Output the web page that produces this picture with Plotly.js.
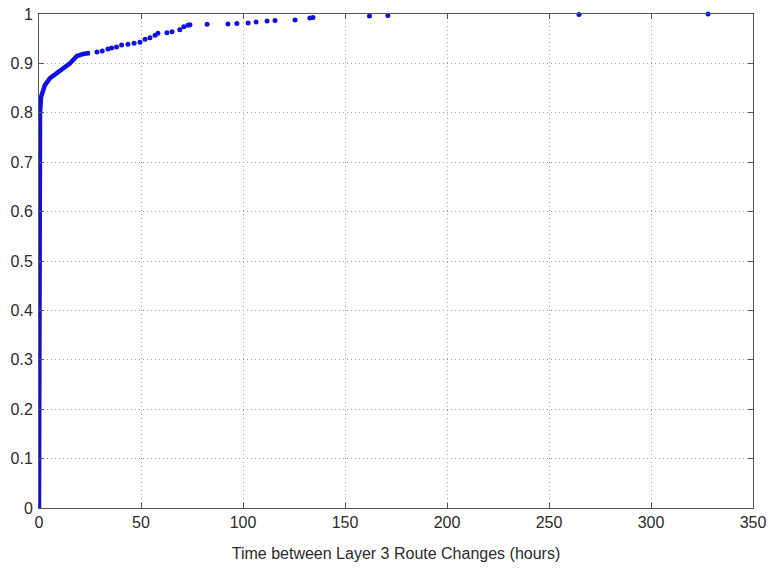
<!DOCTYPE html>
<html>
<head>
<meta charset="utf-8">
<script src="https://cdn.plot.ly/plotly-3.0.1.min.js"></script>
<style>html,body{margin:0;padding:0;background:#fff;}#chart{width:770px;height:569px;}</style>
</head>
<body>
<div id="chart"></div>
<script>
// Dense part of the CDF (points overlap into a solid line)
const denseHours = [0, 0.2, 0.5, 1.0, 2.0, 2.9, 5.4, 8.8, 11.8, 15.2, 18.6, 21.6, 25.0];
const denseCdf   = [0, 0.77, 0.80, 0.832, 0.846, 0.856, 0.870, 0.880, 0.890, 0.900, 0.915, 0.919, 0.921];

// Sparse tail points
const tailHours = [28.4, 31, 33.8, 35.6, 38, 40.5, 43.6, 46.6, 49.5, 52, 54.4, 56.9, 58.3, 62.7, 65.2, 69, 71, 73, 74,
                   82.4, 92.6, 97, 102.5, 106.4, 111.8, 115.7, 125.5, 132.8, 134.3, 162, 171, 264.7, 328];
const tailCdf   = [0.923, 0.925, 0.929, 0.931, 0.933, 0.937, 0.939, 0.941, 0.943, 0.949, 0.952, 0.957, 0.961, 0.962, 0.964, 0.968, 0.974, 0.977, 0.978,
                   0.979, 0.980, 0.981, 0.982, 0.984, 0.986, 0.987, 0.988, 0.992, 0.993, 0.996, 0.997, 0.999, 1.0];

const xTicks = [0, 50, 100, 150, 200, 250, 300, 350];
const yTicks = [0, 0.1, 0.2, 0.3, 0.4, 0.5, 0.6, 0.7, 0.8, 0.9, 1];
const yTickText = ['0', '0.1', '0.2', '0.3', '0.4', '0.5', '0.6', '0.7', '0.8', '0.9', '1'];
const xTitle = 'Time between Layer 3 Route Changes (hours)';

const blue = '#1010e0';
const traces = [
  {x: denseHours, y: denseCdf, mode: 'lines', type: 'scatter',
   line: {color: blue, width: 4.5}, cliponaxis: false, hoverinfo: 'skip'},
  {x: tailHours, y: tailCdf, mode: 'markers', type: 'scatter',
   marker: {color: blue, size: 5}, cliponaxis: false, hoverinfo: 'skip'}
];

const axisCommon = {
  showline: true, linecolor: '#555', linewidth: 1, mirror: 'allticks',
  ticks: 'inside', ticklen: 5, tickcolor: '#555',
  showgrid: true, gridcolor: '#a0a0a0', griddash: '1px,3px', gridwidth: 1,
  zeroline: false, tickfont: {size: 16, color: '#2a2a2a'}
};

const layout = {
  width: 770, height: 569,
  margin: {l: 39, r: 17, t: 14, b: 61},
  paper_bgcolor: '#fff', plot_bgcolor: '#fff',
  font: {family: '"Liberation Sans", Arial, sans-serif', color: '#2a2a2a'},
  showlegend: false,
  xaxis: Object.assign({}, axisCommon, {
    range: [0, 350], tickvals: xTicks, ticktext: xTicks.map(String),
    title: {text: xTitle, font: {size: 16, color: '#2a2a2a'}, standoff: 17}
  }),
  yaxis: Object.assign({}, axisCommon, {
    range: [0, 1], tickvals: yTicks, ticktext: yTickText, ticklabelstandoff: 2
  })
};

Plotly.newPlot('chart', traces, layout, {displayModeBar: false, staticPlot: true});
</script>
</body>
</html>
